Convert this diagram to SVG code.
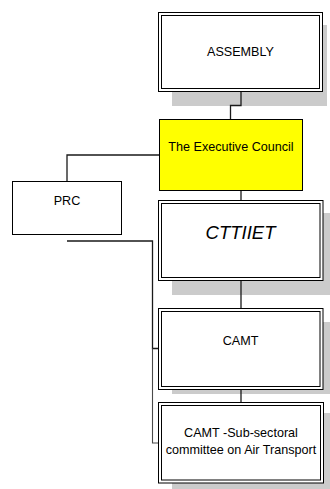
<svg xmlns="http://www.w3.org/2000/svg" width="330" height="489" viewBox="0 0 330 489">
  <style>
    .shadow { fill: #cbcbcb; stroke: none; }
    .frame { fill: #ffffff; stroke: #000000; stroke-width: 1; }
    .inner { fill: none; stroke: #000000; stroke-width: 1; }
    .plain { fill: #ffffff; stroke: #000000; stroke-width: 1; }
    .exec { fill: #ffff00; stroke: #000000; stroke-width: 1; }
    .label { font-family: "Liberation Sans", Arial, sans-serif; font-size: 12.6px; fill: #000000; text-anchor: middle; }
    .big { font-size: 18.5px; font-style: italic; }
    .link { fill: none; stroke: #1a1a1a; stroke-width: 1.3; }
    .link2 { fill: none; stroke: #4a4a4a; stroke-width: 1.1; }
  </style>

  <!-- drop shadows behind the framed boxes -->
  <g id="shadows">
    <rect class="shadow" x="172" y="25" width="155" height="81"/>
    <rect class="shadow" x="172" y="213" width="160" height="82"/>
    <rect class="shadow" x="172" y="322" width="160" height="72"/>
    <rect class="shadow" x="172" y="413" width="160" height="80"/>
  </g>

  <!-- connectors -->
  <g id="connectors">
    <path class="link" d="M241 91.5 V105.5 H230.5 V119.5"/>
    <path class="link" d="M159.5 155 H67 V181.5"/>
    <path class="link" d="M241 190.5 V200.5"/>
    <path class="link" d="M241 280.5 V308.5"/>
    <path class="link" d="M241 389.5 V402.5"/>
    <path class="link" d="M67 241 H152.5 V348.5 H158.5"/>
    <path class="link2" d="M152.5 348.5 V443 H158.5"/>
  </g>

  <g id="assembly">
    <rect class="frame" x="158.5" y="12.5" width="164" height="79"/>
    <rect class="inner" x="161.5" y="15.5" width="158" height="73"/>
    <text class="label" x="240.5" y="56">ASSEMBLY</text>
  </g>

  <g id="executive-council">
    <rect class="exec" x="159.5" y="119.5" width="143" height="71"/>
    <text class="label" x="231" y="151">The Executive Council</text>
  </g>

  <g id="prc">
    <rect class="plain" x="12.5" y="181.5" width="109" height="53"/>
    <text class="label" x="67" y="205">PRC</text>
  </g>

  <g id="cttiiet">
    <rect class="frame" x="158.5" y="200.5" width="164.5" height="80"/>
    <rect class="inner" x="161.5" y="203.5" width="158.5" height="74"/>
    <text class="label big" x="240.5" y="239">CTTIIET</text>
  </g>

  <g id="camt">
    <rect class="frame" x="158.5" y="308.5" width="164.5" height="81"/>
    <rect class="inner" x="161.5" y="311.5" width="158.5" height="75"/>
    <text class="label" x="240.5" y="345">CAMT</text>
  </g>

  <g id="camt-air-transport">
    <rect class="frame" x="158.5" y="402.5" width="165" height="80.5"/>
    <rect class="inner" x="161.5" y="405.5" width="159" height="74.5"/>
    <text class="label" x="241" y="437">CAMT -Sub-sectoral</text>
    <text class="label" x="241" y="454">committee on Air Transport</text>
  </g>
</svg>
